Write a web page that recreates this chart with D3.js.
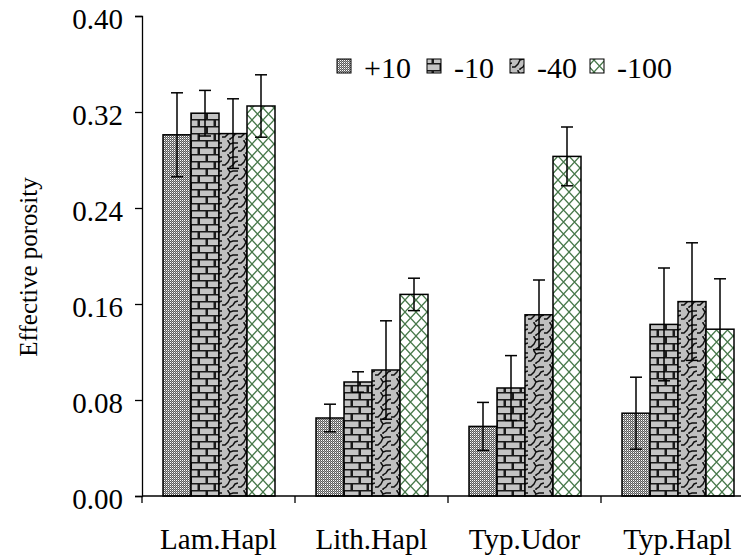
<!DOCTYPE html>
<html><head><meta charset="utf-8">
<script src="https://cdn.jsdelivr.net/npm/d3@7"></script>
<style>html,body{margin:0;padding:0;background:#fff;}svg{display:block;} svg text{font-family:"Liberation Serif","Times New Roman",serif !important;}</style>
</head><body>
<script>
const categories = ["Lam.Hapl", "Lith.Hapl", "Typ.Udor", "Typ.Hapl"];
const seriesNames = ["+10", "-10", "-40", "-100"];
const values_p10  = [0.301, 0.065, 0.058, 0.069];
const values_m10  = [0.319, 0.095, 0.090, 0.143];
const values_m40  = [0.302, 0.105, 0.151, 0.162];
const values_m100 = [0.325, 0.168, 0.283, 0.139];
const err_p10  = [0.035, 0.0115, 0.020, 0.030];
const err_m10  = [0.019, 0.0085, 0.027, 0.047];
const err_m40  = [0.029, 0.041, 0.029, 0.049];
const err_m100 = [0.026, 0.0135, 0.0245, 0.042];
const yTicks = [0, 0.08, 0.16, 0.24, 0.32, 0.40];

const seriesVals = [values_p10, values_m10, values_m40, values_m100];
const seriesErr = [err_p10, err_m10, err_m40, err_m100];
const patternIds = ["pDots", "pBrick", "pShingle", "pCross"];

const W = 741, H = 558;
const svg = d3.select("body").append("svg").attr("width", W).attr("height", H);
const defs = svg.append("defs");

// dotted pattern (+10)
const pd = defs.append("pattern").attr("id", "pDots").attr("patternUnits", "userSpaceOnUse").attr("width", 2).attr("height", 2);
pd.append("rect").attr("width", 2).attr("height", 2).attr("fill", "#5c5c5c");
pd.append("rect").attr("width", 1).attr("height", 1).attr("fill", "#ffffff");
pd.append("rect").attr("x", 1).attr("y", 1).attr("width", 1).attr("height", 1).attr("fill", "#a0a0a0");

// brick pattern (-10)
const pb = defs.append("pattern").attr("id", "pBrick").attr("patternUnits", "userSpaceOnUse").attr("width", 16).attr("height", 14);
pb.append("rect").attr("width", 16).attr("height", 14).attr("fill", "#1a1a1a");
pb.append("rect").attr("x", 2).attr("y", 1.5).attr("width", 13.5).attr("height", 5.5).attr("fill", "#c4c4c4");
pb.append("rect").attr("x", 10).attr("y", 8.5).attr("width", 6).attr("height", 5.5).attr("fill", "#c4c4c4");
pb.append("rect").attr("x", 0).attr("y", 8.5).attr("width", 7.5).attr("height", 5.5).attr("fill", "#c4c4c4");

// shingle pattern (-40)
const ps = defs.append("pattern").attr("id", "pShingle").attr("patternUnits", "userSpaceOnUse").attr("width", 16).attr("height", 14);
ps.append("rect").attr("width", 16).attr("height", 14).attr("fill", "#c0c0c0");
ps.append("path").attr("d", "M0,11 L3,11 L6,8 L8,4 L11,3 L16,3 M8,4 L6,1 L6,0 M8,14 L8,13 L11,11 L13,8 L16,7")
  .attr("fill", "none").attr("stroke", "#111").attr("stroke-width", 1.5);

// green crosshatch pattern (-100)
const pc = defs.append("pattern").attr("id", "pCross").attr("patternUnits", "userSpaceOnUse").attr("width", 11).attr("height", 12);
pc.append("rect").attr("width", 11).attr("height", 12).attr("fill", "#ffffff");
pc.append("path").attr("d", "M0,0 L11,12 M11,0 L0,12")
  .attr("fill", "none").attr("stroke", "#47784a").attr("stroke-width", 1.3);

const plotLeft = 142, plotTop = 16, plotBottom = 496, bandW = 153;
const x0 = d3.scaleBand().domain(categories).range([plotLeft, plotLeft + bandW * categories.length]).padding(0);
const x1 = d3.scaleBand().domain(seriesNames).range([21, 133]).padding(0);
const y = d3.scaleLinear().domain([0, 0.4]).range([plotBottom, plotTop]);

// bars
categories.forEach((c, ci) => {
  const g = svg.append("g").attr("transform", `translate(${x0(c)},0)`);
  seriesNames.forEach((s, si) => {
    const v = seriesVals[si][ci];
    g.append("rect")
      .attr("x", x1(s)).attr("y", y(v))
      .attr("width", x1.bandwidth()).attr("height", y(0) - y(v))
      .attr("fill", `url(#${patternIds[si]})`)
      .attr("stroke", "#000").attr("stroke-width", 1.5);
  });
});
// error bars
categories.forEach((c, ci) => {
  const g = svg.append("g").attr("transform", `translate(${x0(c)},0)`);
  seriesNames.forEach((s, si) => {
    const v = seriesVals[si][ci], e = seriesErr[si][ci];
    const cx = x1(s) + x1.bandwidth() / 2;
    g.append("line").attr("x1", cx).attr("x2", cx).attr("y1", y(v + e)).attr("y2", y(v - e)).attr("stroke", "#000").attr("stroke-width", 1.5);
    [v + e, v - e].forEach(t => {
      g.append("line").attr("x1", cx - 6).attr("x2", cx + 6).attr("y1", y(t)).attr("y2", y(t)).attr("stroke", "#000").attr("stroke-width", 1.5);
    });
  });
});

// y axis
const yAxis = d3.axisLeft(y).tickValues(yTicks).tickFormat(d3.format(".2f")).tickSize(7).tickPadding(12);
const ya = svg.append("g").attr("transform", `translate(${plotLeft},0)`).call(yAxis);
ya.select(".domain").attr("stroke-width", 1.3);
ya.selectAll(".tick line").attr("stroke-width", 1.3);
ya.selectAll("text").attr("font-size", 29).attr("fill", "#000").attr("dy", "0.42em");

// x axis
const xa = svg.append("g").attr("transform", `translate(0,${plotBottom})`);
xa.append("line").attr("x1", plotLeft).attr("x2", W).attr("y1", 0).attr("y2", 0).attr("stroke", "#000").attr("stroke-width", 1.3);
const boundaries = categories.map(c => x0(c));
xa.selectAll(".bt").data(boundaries).enter().append("line")
  .attr("x1", d => d).attr("x2", d => d).attr("y1", 0).attr("y2", 7).attr("stroke", "#000").attr("stroke-width", 1.3);
xa.selectAll(".xl").data(categories).enter().append("text")
  .attr("x", d => x0(d) + x0.bandwidth() / 2).attr("y", 53)
  .attr("text-anchor", "middle").attr("font-size", 29).text(d => d);

// y title
svg.append("text").attr("transform", "translate(37,267) rotate(-90)")
  .attr("text-anchor", "middle").attr("font-size", 25).text("Effective porosity");

// legend
const legX = [337, 427, 510, 590];
seriesNames.forEach((s, si) => {
  svg.append("rect").attr("x", legX[si]).attr("y", 59).attr("width", 14).attr("height", 14)
    .attr("fill", `url(#${patternIds[si]})`).attr("stroke", "#000").attr("stroke-width", 1);
  svg.append("text").attr("x", legX[si] + 27).attr("y", 78).attr("font-size", 30).text(s);
});
</script>
</body></html>
